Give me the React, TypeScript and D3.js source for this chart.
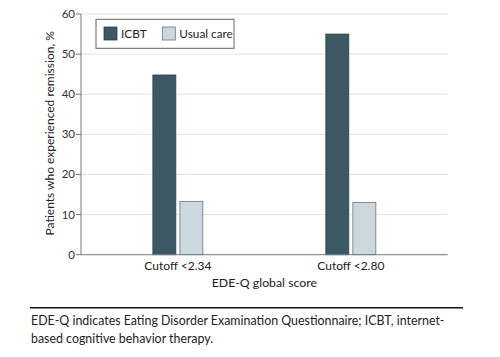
import React from "react";
import * as d3 from "d3";

const categories = ["Cutoff <2.34", "Cutoff <2.80"];
const seriesNames = ["ICBT", "Usual care"];
const icbtValues = [44.8, 55.0];
const usualCareValues = [13.3, 13.0];
const yTicks = [0, 10, 20, 30, 40, 50, 60];
const colors = ["#3c5864", "#cbd9df"];
const strokes = ["#2c4350", "#6e7478"];
const footnoteLines = [
  "EDE-Q indicates Eating Disorder Examination Questionnaire; ICBT, internet-",
  "based cognitive behavior therapy.",
];

const W = 500;
const H = 357;
const margin = { left: 81, right: 52.3, top: 14, bottom: 102.3 };
const FONT = "Lato, 'Open Sans', sans-serif";

export default function App() {
  const x0 = margin.left;
  const x1 = W - margin.right;
  const y0 = H - margin.bottom;
  const y1 = margin.top;
  const x = d3.scalePoint<string>().domain(categories).range([x0, x1]).padding(0.56);
  const y = d3.scaleLinear().domain([0, 60]).range([y0, y1]);
  const inner = d3.scaleBand<string>().domain(seriesNames).range([-25, 25]).paddingInner(0.15);
  const series = [icbtValues, usualCareValues];

  return (
    <svg width={W} height={H} style={{ position: "absolute", left: 0, top: 0, background: "#fff" }}>
      {yTicks.map((t) => (
        <g key={t}>
          {t > 0 && <line x1={x0} x2={x1} y1={y(t)} y2={y(t)} stroke="#e3e3e3" strokeWidth={1} />}
          <line x1={x0 - 5} x2={x0} y1={y(t)} y2={y(t)} stroke="#777" strokeWidth={1} />
          <text x={x0 - 6} y={y(t)} dy="0.35em" textAnchor="end" fontFamily={FONT} fontSize={11.5} fill="#333">
            {t}
          </text>
        </g>
      ))}
      {categories.map((c, i) =>
        seriesNames.map((s, j) => {
          const v = series[j][i];
          return (
            <rect
              key={c + s}
              x={(x(c) as number) + (inner(s) as number)}
              y={y(v)}
              width={inner.bandwidth()}
              height={y(0) - y(v)}
              fill={colors[j]}
              stroke={strokes[j]}
              strokeWidth={0.8}
            />
          );
        })
      )}
      <line x1={x0} x2={x0} y1={y1} y2={y0} stroke="#777" strokeWidth={1} />
      <line x1={x0} x2={x1} y1={y0} y2={y0} stroke="#777" strokeWidth={1} />
      {categories.map((c) => (
        <text key={c} x={x(c)} y={270} textAnchor="middle" fontFamily={FONT} fontSize={12} fill="#222">
          {c}
        </text>
      ))}
      <text x={(x0 + x1) / 2} y={287} textAnchor="middle" fontFamily={FONT} fontSize={12.3} fill="#222">
        EDE-Q global score
      </text>
      <text
        transform={`translate(54, ${(y0 + y1) / 2 - 1}) rotate(-90)`}
        textAnchor="middle"
        fontFamily={FONT}
        fontSize={12}
        fill="#222"
      >
        Patients who experienced remission, %
      </text>
      <g>
        <rect x={96} y={19.3} width={138} height={29} fill="#fff" stroke="#666" strokeWidth={1} />
        {seriesNames.map((s, j) => {
          const lx = j === 0 ? 104 : 162.3;
          return (
            <g key={s}>
              <rect x={lx} y={27} width={13} height={13} fill={colors[j]} stroke={strokes[j]} strokeWidth={0.8} />
              <text x={lx + 17} y={33.5} dy="0.35em" fontFamily={FONT} fontSize={11.8} fill="#222">
                {s}
              </text>
            </g>
          );
        })}
      </g>
      <line x1={30} x2={463} y1={307.7} y2={307.7} stroke="#111" strokeWidth={1.5} />
      {footnoteLines.map((t, i) => (
        <text key={i} x={31} y={325 + i * 18} fontFamily={FONT} fontSize={12.4} fill="#222">
          {t}
        </text>
      ))}
    </svg>
  );
}
